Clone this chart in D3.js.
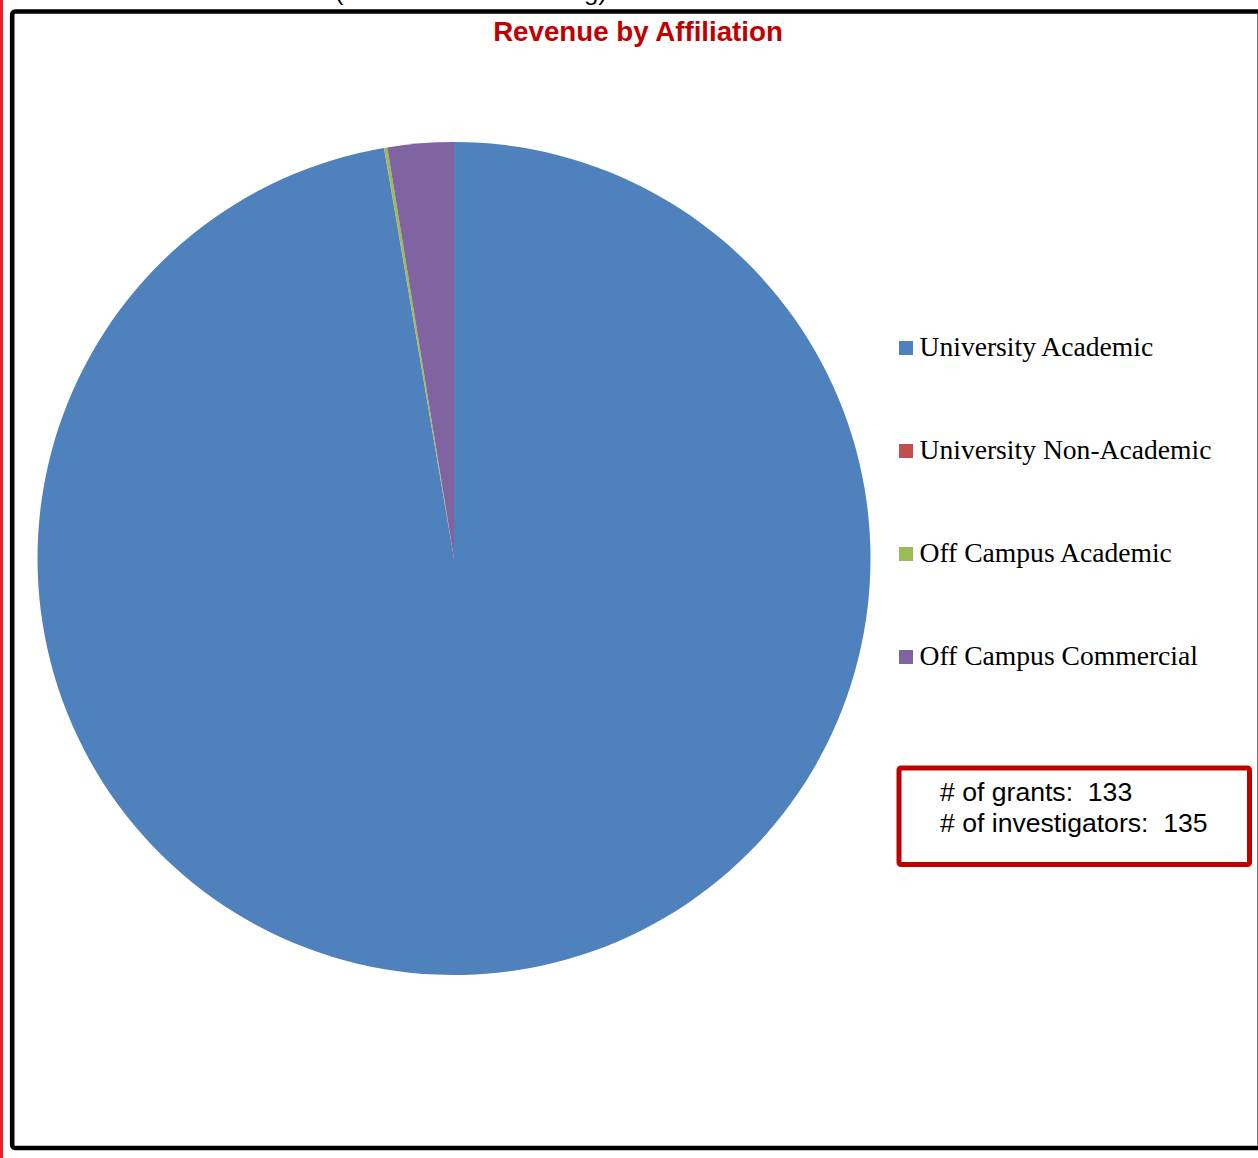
<!DOCTYPE html>
<html>
<head>
<meta charset="utf-8">
<script src="https://cdn.jsdelivr.net/npm/d3@7"></script>
<style>
  html, body { margin: 0; padding: 0; background: #fff; }
  svg { display: block; }
</style>
</head>
<body>
<svg id="chart" width="1258" height="1158"></svg>
<script>
// ---- data ----
const categories = ["University Academic", "University Non-Academic", "Off Campus Academic", "Off Campus Commercial"];
const values = [97.31, 0.01, 0.12, 2.56];
const colors = ["#4F81BD", "#C0504D", "#9BBB59", "#8064A2"];
const chartTitle = "Revenue by Affiliation";
const clippedHeading = "(based on total funding)";
const statsLines = ["# of grants:  133", "# of investigators:  135"];

const svg = d3.select("#chart");

// outer decorations
svg.append("rect").attr("x", 0).attr("y", 0).attr("width", 3).attr("height", 1158).attr("fill", "#E8202E");
svg.append("text").attr("x", 335).attr("y", -0.5)
  .attr("font-family", "Arial, 'Liberation Sans', sans-serif").attr("font-size", 24)
  .attr("textLength", 272).attr("lengthAdjust", "spacingAndGlyphs")
  .attr("fill", "#000").text(clippedHeading);
svg.append("rect").attr("x", 12.2).attr("y", 11.5).attr("width", 1300).attr("height", 1136.5)
  .attr("rx", 3).attr("fill", "none").attr("stroke", "#000").attr("stroke-width", 4.6);
svg.append("line").attr("x1", 1257.5).attr("x2", 1257.5).attr("y1", 14).attr("y2", 1146)
  .attr("stroke", "#777").attr("stroke-width", 1);

// title
svg.append("text").attr("x", 638).attr("y", 41).attr("text-anchor", "middle")
  .attr("font-family", "Arial, 'Liberation Sans', sans-serif").attr("font-weight", "bold")
  .attr("font-size", 27.7).attr("fill", "#C00000").text(chartTitle);

// pie
const cx = 454, cy = 558.5, r = 416.5;
const color = d3.scaleOrdinal().domain(categories).range(colors);
const pie = d3.pie().sort(null).value(d => d.v);
const arc = d3.arc().innerRadius(0).outerRadius(r);
const data = categories.map((c, i) => ({ c, v: values[i] }));
svg.append("g").attr("transform", `translate(${cx},${cy})`)
  .selectAll("path").data(pie(data)).join("path")
  .attr("d", arc).attr("fill", d => color(d.data.c));

// legend
const legendY = d3.scalePoint().domain(categories).range([348, 657]);
const lg = svg.append("g");
categories.forEach(c => {
  const y = legendY(c);
  lg.append("rect").attr("x", 899).attr("y", y - 7).attr("width", 14).attr("height", 14).attr("fill", color(c));
  lg.append("text").attr("x", 919.5).attr("y", y + 8)
    .attr("font-family", "'Liberation Serif', 'Times New Roman', serif").attr("font-size", 27.6)
    .attr("fill", "#000").text(c);
});

// stats box
svg.append("rect").attr("x", 899).attr("y", 768).attr("width", 350.5).attr("height", 96.5)
  .attr("rx", 2).attr("fill", "#fff").attr("stroke", "#C00000").attr("stroke-width", 5);
statsLines.forEach((t, i) => {
  svg.append("text").attr("x", 940).attr("y", 801 + i * 31)
    .attr("font-family", "Arial, 'Liberation Sans', sans-serif").attr("font-size", 26.6)
    .style("white-space", "pre").attr("fill", "#000").text(t);
});
</script>
</body>
</html>
